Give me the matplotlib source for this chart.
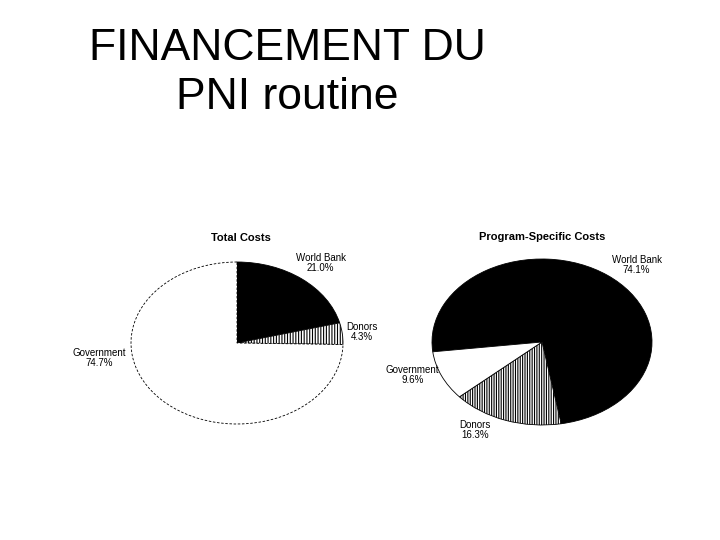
import matplotlib
matplotlib.use("Agg")
import matplotlib.pyplot as plt

title_lines = ["FINANCEMENT DU", "PNI routine"]

left_title = "Total Costs"
left_labels = ["World Bank", "Donors", "Government"]
left_values = [21.0, 4.3, 74.7]

right_title = "Program-Specific Costs"
right_labels = ["World Bank", "Donors", "Government"]
right_values = [74.1, 16.3, 9.6]

plt.rcParams['font.family'] = ['Liberation Sans', 'DejaVu Sans']
plt.rcParams['hatch.linewidth'] = 0.8

W, H = 720, 540
fig = plt.figure(figsize=(7.2, 5.4), dpi=100)
fig.patch.set_facecolor("white")

for line, base in zip(title_lines, [60, 109]):
    fig.text(287 / W, 1 - base / H, line, ha="center", va="baseline",
             fontsize=32, color="black")


def make_ax(cx, cy, rx, ry):
    ax = fig.add_axes([(cx - rx) / W, 1 - (cy + ry) / H, 2 * rx / W, 2 * ry / H])
    ax.axis("off")
    return ax


def fix(ax):
    ax.set_xlim(-1, 1)
    ax.set_ylim(-1, 1)
    ax.set_aspect("auto")


def lab(ax, x, y, name, val):
    ax.text(x, y, f"{name}\n{val:.1f}%", ha="center", va="center",
            fontsize=7, linespacing=1.0, color="black", clip_on=False)


# Left pie
axl = make_ax(237, 343, 106, 81)
wl, _ = axl.pie(left_values, startangle=90, counterclock=False, radius=1,
                colors=["black", "white", "white"],
                wedgeprops=dict(linewidth=0.6, edgecolor="black"))
wl[1].set_hatch("||||||")
wl[2].set_linestyle((0, (3, 2)))
wl[2].set_linewidth(0.6)
fix(axl)

axl.text(0.04, 1.30, left_title, ha="center", va="center", fontsize=8,
         fontweight="bold", clip_on=False)
lab(axl, 0.79, 0.99, left_labels[0], left_values[0])
lab(axl, 1.18, 0.14, left_labels[1], left_values[1])
lab(axl, -1.30, -0.19, left_labels[2], left_values[2])

# Right pie
axr = make_ax(542, 342, 110, 83)
wr, _ = axr.pie(right_values, startangle=186.8, counterclock=False, radius=1,
                colors=["black", "white", "white"],
                wedgeprops=dict(linewidth=0.6, edgecolor="black"))
wr[1].set_hatch("|||||||")
fix(axr)

axr.text(0.0, 1.26, right_title, ha="center", va="center", fontsize=8,
         fontweight="bold", clip_on=False)
lab(axr, 0.86, 0.93, right_labels[0], right_values[0])
lab(axr, -0.61, -1.06, right_labels[1], right_values[1])
lab(axr, -1.18, -0.40, right_labels[2], right_values[2])

fig.savefig("out.png", dpi=100, facecolor="white")
